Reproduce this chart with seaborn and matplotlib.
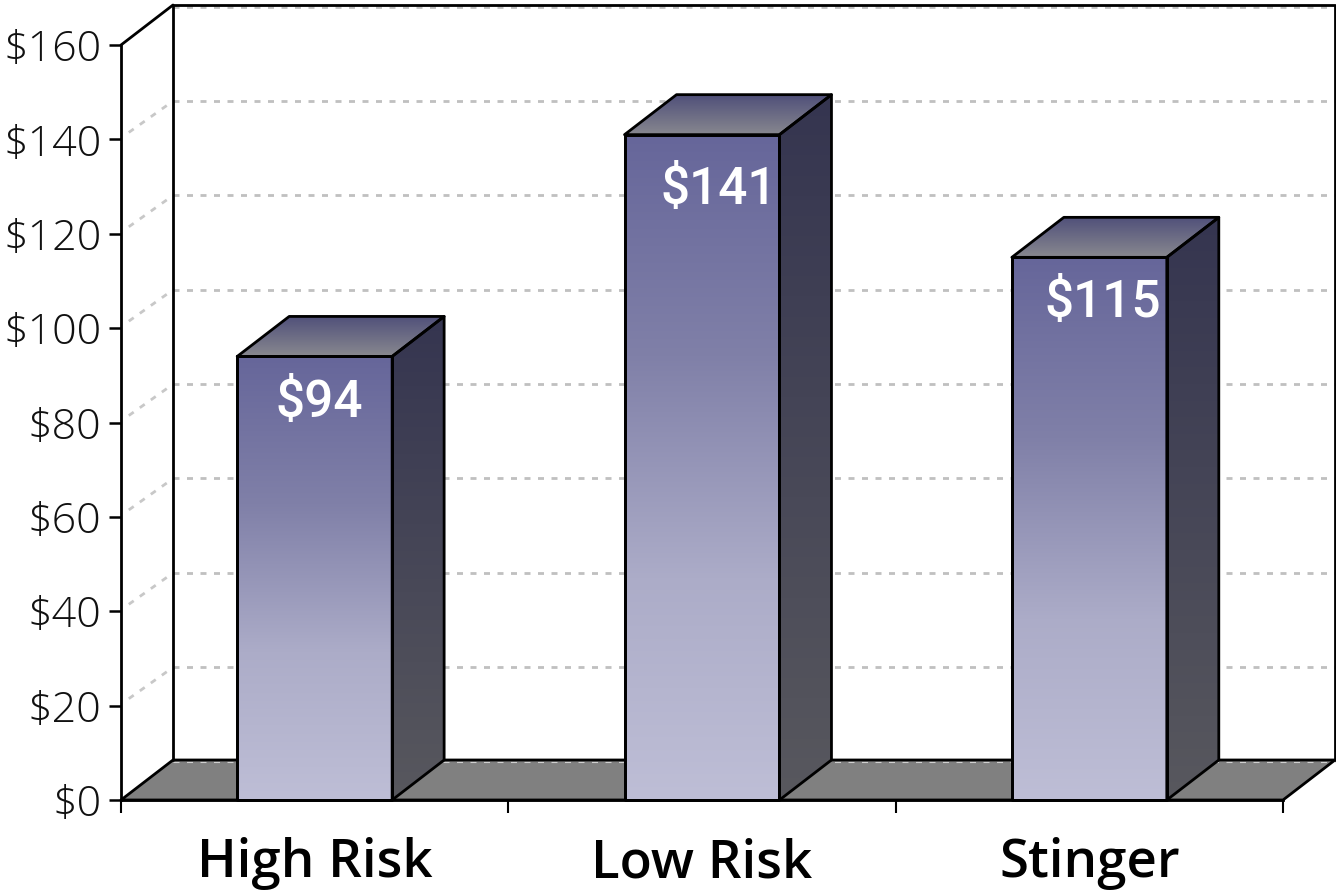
import numpy as np
import pandas as pd
import seaborn as sns
import matplotlib.pyplot as plt
from matplotlib.colors import LinearSegmentedColormap
from matplotlib.patches import Polygon

# values
categories = ['High Risk', 'Low Risk', 'Stinger']
values = [94, 141, 115]
bar_labels = ['$94', '$141', '$115']
y_ticks = [0, 20, 40, 60, 80, 100, 120, 140, 160]
y_labels = ['$0', '$20', '$40', '$60', '$80', '$100', '$120', '$140', '$160']

sns.set_style('white')
plt.rcParams['font.family'] = ['Open Sans', 'DejaVu Sans']

fig = plt.figure(figsize=(13.36, 8.91), dpi=100)
ax = fig.add_axes([121 / 1336, 1 - 800 / 891, 1162 / 1336, 755 / 891])

df = pd.DataFrame({'cat': categories, 'val': values})
sns.barplot(data=df, x='cat', y='val', width=0.4, ax=ax, color='white',
            edgecolor='black', linewidth=2.0, zorder=5)
ax.set_xlim(-0.5, 2.5)
ax.set_ylim(0, 160)
ax.set_xlabel('')
ax.set_ylabel('')

# depth of the fake 3d box, 52px across and 40px up
dx = 52 / (1162 / 3)
dy = 40 / (755 / 160)

front_cmap = LinearSegmentedColormap.from_list('front', ['#66669a', '#8080a8', '#acacc8', '#bebed6'])
side_cmap = LinearSegmentedColormap.from_list('side', ['#353550', '#58585e'])
top_cmap = LinearSegmentedColormap.from_list('top', ['#50507a', '#88888f'])
LINE = 2.0


def gradient(poly, extent, cmap, zorder):
    im = ax.imshow(np.linspace(0, 1, 256).reshape(-1, 1), cmap=cmap, extent=extent,
                   aspect='auto', origin='upper', zorder=zorder)
    im.set_clip_path(poly)
    im.set_clip_box(None)


def outline(points, zorder, face='none', color='black', lw=LINE):
    poly = Polygon(points, closed=True, facecolor=face, edgecolor=color, linewidth=lw,
                   clip_on=False, zorder=zorder, joinstyle='round')
    ax.add_patch(poly)
    return poly


# walls
x0, x1 = -0.5, 2.5
ytop = y_ticks[-1]
outline([(x0, 0), (x0 + dx, dy), (x1 + dx, dy), (x1, 0)], 2, face='#808080')
ax.plot([x0 + dx, x0 + dx, x1 + dx, x1 + dx], [dy, ytop + dy, ytop + dy, dy],
        color='black', lw=LINE, clip_on=False, zorder=3)
ax.plot([x0, x0 + dx], [ytop, ytop + dy], color='black', lw=LINE, clip_on=False, zorder=3)

# dotted grid on both walls
for t in y_ticks:
    if t == 0:
        ax.plot([x0 + dx, x1 + dx], [t + dy - 0.45, t + dy - 0.45], color='#d0d0d0', lw=0.8,
                dashes=(5.4, 6.75), clip_on=False, zorder=2.5)
    else:
        shift = 0.5 if t == ytop else 0.3
        ax.plot([x0 + dx, x1 + dx], [t + dy - shift, t + dy - shift], color='#c0c0c0', lw=2.0,
                dashes=(2.16, 2.7), clip_on=False, zorder=2.5)
    if 0 < t < ytop:
        ax.plot([x0 + dx * 0.15, x0 + dx * 0.9], [t + dy * 0.15 + 0.2, t + dy * 0.9 - 0.3],
                color='#c8c8c8', lw=2.0, dashes=(2.16, 2.7), clip_on=False, zorder=2.5)

# faces of the bars, sized from what seaborn drew
for bar in ax.patches[:3]:
    l, r = bar.get_x(), bar.get_x() + bar.get_width()
    h = bar.get_height()
    bar.set_facecolor('none')
    side = outline([(r, 0), (r + dx, dy), (r + dx, h + dy), (r, h)], 6)
    gradient(side, (r, r + dx, 0, h + dy), side_cmap, 4.5)
    top = outline([(l, h), (r, h), (r + dx, h + dy), (l + dx, h + dy)], 6)
    gradient(top, (l, r + dx, h, h + dy), top_cmap, 4.5)
    front = outline([(l, 0), (r, 0), (r, h), (l, h)], 6)
    gradient(front, (l, r, 0, h), front_cmap, 4.5)

ax.set_xlim(-0.5, 2.5)
ax.set_ylim(0, 160)

# value labels
label_shift = [(5, -47), (17, -55), (13, -46)]
for i, v in enumerate(values):
    ax.annotate(bar_labels[i], (i, v), xytext=label_shift[i], textcoords='offset pixels',
                ha='center', va='center', color='white', fontsize=37, fontweight='medium',
                family=['Roboto', 'DejaVu Sans'], zorder=8)

# ticks, group edges are the major ones and labels sit on the minor ones
ax.set_yticks(y_ticks)
ax.set_yticklabels(y_labels, fontsize=31, color='#111111', fontweight='light')
ax.set_xticks([-0.5, 0.5, 1.5, 2.5])
ax.set_xticklabels([])
ax.set_xticks([0, 1, 2], minor=True)
ax.set_xticklabels(categories, minor=True, fontsize=38, fontweight='semibold', color='black')
ax.tick_params(axis='y', left=True, length=9, width=1.8, color='black', pad=5)
ax.tick_params(axis='x', which='major', bottom=True, length=9, width=1.5, color='black')
ax.tick_params(axis='x', which='minor', bottom=False, length=0, pad=27)

sns.despine(ax=ax, top=True, right=True)
for name in ['left', 'bottom']:
    ax.spines[name].set_linewidth(LINE)
    ax.spines[name].set_color('black')
    ax.spines[name].set_zorder(7)

fig.savefig('out.png', dpi=100)
